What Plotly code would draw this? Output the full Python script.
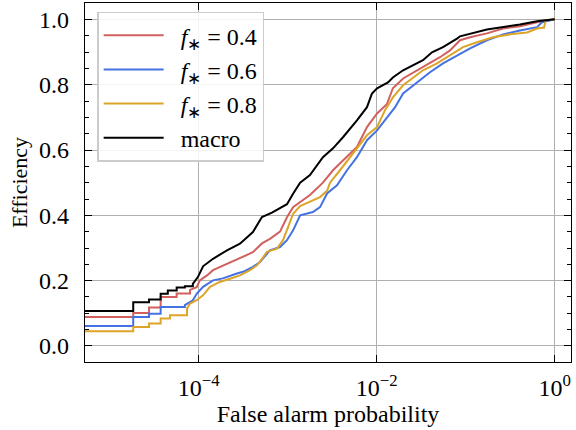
import plotly.graph_objects as go

# ---- data (false alarm probability vs efficiency) ----
macro_fap = [5e-6, 1.84e-5, 1.84e-5, 2.77e-5, 2.77e-5, 3.74e-5, 3.74e-5, 4.5e-5, 4.5e-5, 5.66e-5,
             5.66e-5, 7.0e-5, 7.0e-5, 8.6e-5, 8.6e-5, 9.8e-5, 1.12e-4, 1.45e-4, 2.08e-4, 2.91e-4,
             4.07e-4, 5.14e-4, 6.66e-4, 9.82e-4, 1.15e-3, 1.38e-3, 1.78e-3, 2.49e-3, 3.23e-3, 4.18e-3,
             6.0e-3, 7.78e-3, 8.85e-3, 1.01e-2, 1.34e-2, 1.52e-2, 1.98e-2, 2.56e-2, 3.31e-2, 4.18e-2,
             5.56e-2, 7.98e-2, 8.63e-2, 0.173, 0.263, 0.407, 0.633, 0.885, 1.0]
macro_eff = [0.107, 0.107, 0.134, 0.134, 0.142, 0.142, 0.160, 0.160, 0.170, 0.170,
             0.179, 0.179, 0.183, 0.183, 0.190, 0.211, 0.244, 0.267, 0.293, 0.313,
             0.349, 0.395, 0.408, 0.434, 0.466, 0.500, 0.523, 0.578, 0.605, 0.639,
             0.691, 0.731, 0.773, 0.789, 0.807, 0.822, 0.844, 0.859, 0.875, 0.899,
             0.915, 0.941, 0.948, 0.969, 0.976, 0.984, 0.994, 0.998, 1.0]

f04_fap = [5e-6, 1.84e-5, 1.84e-5, 2.77e-5, 2.77e-5, 3.74e-5, 3.74e-5, 5.66e-5, 5.66e-5, 8.0e-5,
           8.0e-5, 9.5e-5, 1.03e-4, 1.24e-4, 1.45e-4, 2.08e-4, 2.91e-4, 4.07e-4, 5.14e-4, 6.32e-4,
           8.2e-4, 9.82e-4, 1.15e-3, 1.78e-3, 2.49e-3, 3.23e-3, 4.18e-3, 6.0e-3, 7.78e-3, 1.01e-2,
           1.30e-2, 1.52e-2, 1.98e-2, 2.84e-2, 3.97e-2, 5.14e-2, 6.67e-2, 8.63e-2, 0.112, 0.173,
           0.263, 0.407, 0.633, 0.957, 1.0]
f04_eff = [0.089, 0.089, 0.101, 0.101, 0.118, 0.118, 0.150, 0.150, 0.161, 0.161,
           0.172, 0.180, 0.201, 0.216, 0.232, 0.252, 0.270, 0.287, 0.314, 0.328,
           0.350, 0.394, 0.425, 0.462, 0.500, 0.538, 0.568, 0.609, 0.670, 0.712,
           0.740, 0.789, 0.819, 0.844, 0.865, 0.884, 0.905, 0.936, 0.945, 0.957,
           0.972, 0.979, 0.991, 1.0, 1.0]

f06_fap = [5e-6, 1.84e-5, 1.84e-5, 2.77e-5, 2.77e-5, 3.74e-5, 3.74e-5, 7.0e-5, 7.0e-5, 8.6e-5,
           9.5e-5, 1.12e-4, 1.45e-4, 1.87e-4, 2.69e-4, 3.15e-4, 4.07e-4, 4.89e-4, 6.32e-4, 8.2e-4,
           9.82e-4, 1.15e-3, 1.38e-3, 1.92e-3, 2.31e-3, 2.77e-3, 3.58e-3, 4.64e-3, 6.0e-3, 7.78e-3,
           1.01e-2, 1.30e-2, 1.61e-2, 1.98e-2, 2.84e-2, 3.97e-2, 5.56e-2, 7.98e-2, 0.112, 0.173,
           0.263, 0.407, 0.633, 0.72, 0.957, 1.0]
f06_eff = [0.061, 0.061, 0.089, 0.089, 0.099, 0.099, 0.119, 0.119, 0.125, 0.140,
           0.160, 0.181, 0.201, 0.207, 0.222, 0.227, 0.242, 0.257, 0.293, 0.303,
           0.324, 0.354, 0.400, 0.410, 0.425, 0.467, 0.492, 0.538, 0.578, 0.630,
           0.660, 0.700, 0.731, 0.773, 0.807, 0.838, 0.865, 0.890, 0.911, 0.936,
           0.954, 0.966, 0.976, 0.991, 1.0, 1.0]

f08_fap = [5e-6, 1.84e-5, 1.84e-5, 2.77e-5, 2.77e-5, 3.74e-5, 3.74e-5, 4.76e-5, 4.76e-5, 7.4e-5,
           7.4e-5, 8.0e-5, 9.5e-5, 1.12e-4, 1.34e-4, 1.73e-4, 2.25e-4, 2.91e-4, 3.77e-4, 4.52e-4,
           5.14e-4, 5.85e-4, 7.59e-4, 8.86e-4, 1.01e-3, 1.15e-3, 1.38e-3, 1.92e-3, 2.31e-3, 2.77e-3,
           2.99e-3, 3.87e-3, 5.01e-3, 6.49e-3, 7.78e-3, 1.01e-2, 1.24e-2, 1.41e-2, 1.52e-2, 1.98e-2,
           2.56e-2, 3.31e-2, 4.76e-2, 6.67e-2, 9.33e-2, 0.134, 0.203, 0.315, 0.489, 0.633,
           0.76, 0.79, 1.0]
f08_eff = [0.045, 0.045, 0.058, 0.058, 0.069, 0.069, 0.084, 0.084, 0.094, 0.094,
           0.115, 0.130, 0.140, 0.155, 0.181, 0.196, 0.206, 0.216, 0.232, 0.247,
           0.267, 0.288, 0.298, 0.324, 0.364, 0.405, 0.428, 0.445, 0.456, 0.475,
           0.500, 0.538, 0.578, 0.620, 0.645, 0.670, 0.722, 0.746, 0.761, 0.798,
           0.822, 0.844, 0.865, 0.890, 0.915, 0.930, 0.945, 0.954, 0.960, 0.972,
           0.975, 0.997, 1.0]

series_names = ["\u2002<i>f</i><sub>∗</sub> = 0.4", "\u2002<i>f</i><sub>∗</sub> = 0.6",
                "\u2002<i>f</i><sub>∗</sub> = 0.8", "\u2002macro"]
series_colors = ["#d1605e", "#4472e3", "#dca428", "#000000"]

x_tickvals = [1e-4, 1e-2, 1]
x_ticktext = ["10<sup>−4</sup>", "10<sup>−2</sup>", "10<sup>0</sup>"]
y_tickvals = [0.0, 0.2, 0.4, 0.6, 0.8, 1.0]
y_ticktext = ["0.0", "0.2", "0.4", "0.6", "0.8", "1.0"]

FONT = "Liberation Serif"

fig = go.Figure()
for xs, ys, name, col in zip([f04_fap, f06_fap, f08_fap, macro_fap],
                             [f04_eff, f06_eff, f08_eff, macro_eff],
                             series_names, series_colors):
    fig.add_trace(go.Scatter(x=xs, y=ys, mode="lines", name=name,
                             line=dict(color=col, width=2)))

fig.update_layout(
    width=576, height=430,
    margin=dict(l=85, r=5, t=3, b=68, autoexpand=False),
    paper_bgcolor="white", plot_bgcolor="white",
    font=dict(family=FONT, size=24, color="black"),
    showlegend=True,
    legend=dict(x=0.025, y=0.976, xanchor="left", yanchor="top",
                bgcolor="rgba(255,255,255,0.85)", bordercolor="#cccccc", borderwidth=1.5,
                font=dict(family=FONT, size=24), itemwidth=60, tracegroupgap=0),
)
fig.update_xaxes(
    type="log", range=[-5.277, 0.183], automargin=False,
    tickvals=x_tickvals, ticktext=x_ticktext, tickfont=dict(size=24),
    ticks="inside", ticklen=7, tickwidth=1.2, tickcolor="black",
    showline=True, linecolor="black", linewidth=1.3, mirror="ticks",
    showgrid=True, gridcolor="#b0b0b0", gridwidth=1,
    zeroline=False, ticklabelstandoff=4,
    title=dict(text="False alarm probability", standoff=2, font=dict(size=24)),
)
fig.update_yaxes(
    range=[-0.049, 1.05], automargin=False,
    tickvals=y_tickvals, ticktext=y_ticktext, tickfont=dict(size=24),
    ticks="inside", ticklen=7, tickwidth=1.2, tickcolor="black",
    minor=dict(dtick=0.05, tick0=0, ticks="inside", ticklen=4, tickwidth=1, tickcolor="black", showgrid=False),
    showline=True, linecolor="black", linewidth=1.3, mirror="ticks",
    showgrid=True, gridcolor="#b0b0b0", gridwidth=1,
    zeroline=False, ticklabelstandoff=10,
    title=dict(text="Efficiency", standoff=5, font=dict(size=22)),
)

fig.write_html("out.html", config={"displayModeBar": False},
               post_script="document.body.style.margin='0';document.body.style.padding='0';")
